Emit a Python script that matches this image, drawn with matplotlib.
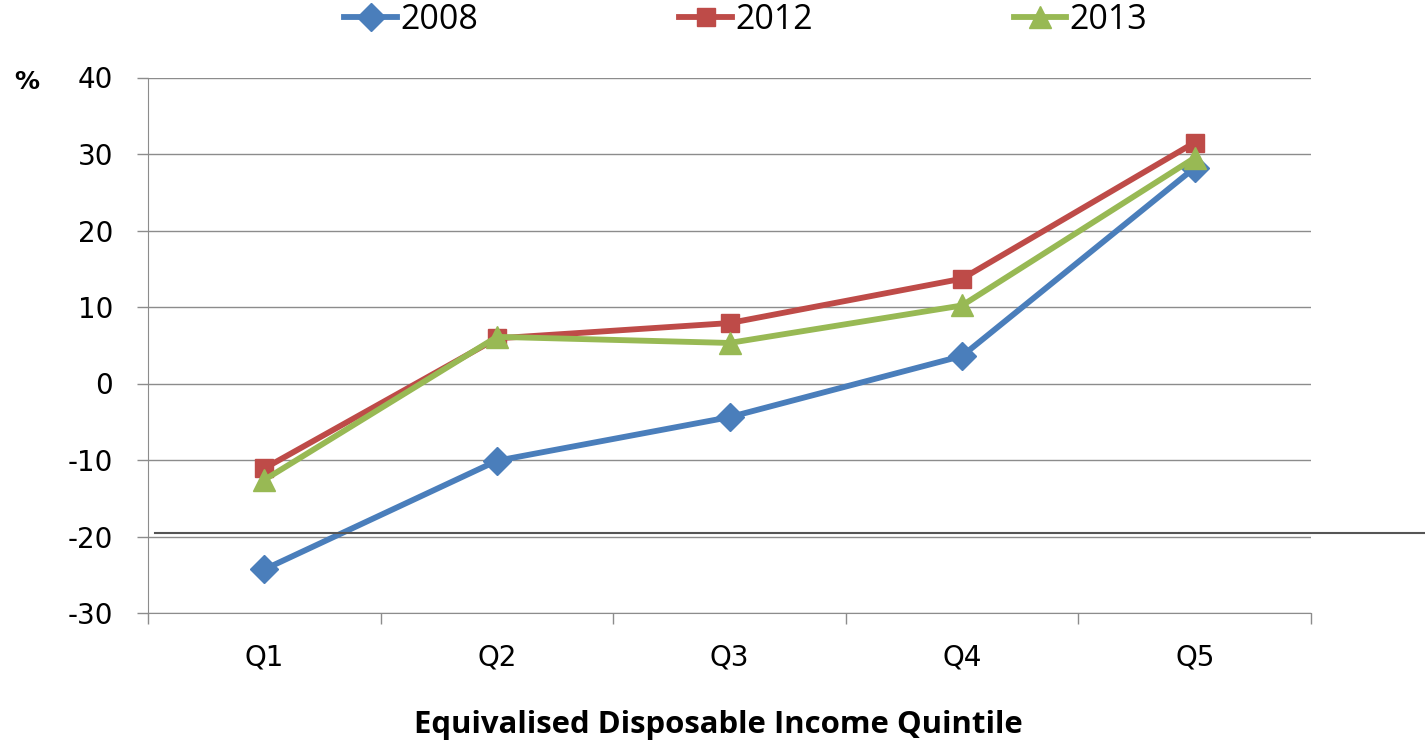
import numpy as np
import matplotlib.pyplot as plt
from matplotlib.lines import Line2D

quintiles = ['Q1', 'Q2', 'Q3', 'Q4', 'Q5']
v2008 = [-24.3, -10.1, -4.4, 3.6, 28.2]
v2012 = [-11.1, 5.9, 7.9, 13.7, 31.5]
v2013 = [-12.6, 6.1, 5.3, 10.2, 29.5]
yticks = [-30, -20, -10, 0, 10, 20, 30, 40]

plt.rcParams['font.family'] = 'DejaVu Sans'

fig = plt.figure(figsize=(14.25, 7.42), dpi=100)
ax = fig.add_axes([148/1425, 1-613/742, (1311-148)/1425, (613-77.5)/742])

x = np.arange(len(quintiles))
ax.plot(x, v2008, color='#4A7EBB', lw=4.2, marker='D', ms=14, label='2008')
ax.plot(x, v2012, color='#BE4B48', lw=4.2, marker='s', ms=13.5, label='2012')
ax.plot(x, v2013, color='#98B954', lw=4.2, marker='^', ms=16, label='2013')

ax.set_xlim(-0.5, 4.5)
ax.set_ylim(-30, 40)
ax.set_yticks(yticks)
ax.set_yticklabels([str(v) for v in yticks], fontsize=20)
ax.set_xticks(x)
ax.set_xticklabels(quintiles, fontsize=20)
ax.set_xticks(np.arange(-0.5, 5, 1), minor=True)
ax.tick_params(axis='x', which='major', length=0, pad=22)
ax.tick_params(axis='x', which='minor', length=8, color='#8c8c8c', width=1)
ax.tick_params(axis='y', length=8, color='#8c8c8c', width=1, pad=17)
ax.grid(axis='y', color='#8c8c8c', lw=1)
ax.set_axisbelow(True)
for s in ['top', 'right']:
    ax.spines[s].set_visible(False)
for s in ['left', 'bottom']:
    ax.spines[s].set_color('#8c8c8c')

fig.text(14/1425, 1-82/742, '%', fontsize=18, fontweight='bold', va='center')
fig.text(718/1425, 1-725/742, 'Equivalised Disposable Income Quintile',
         fontsize=22.4, fontweight='bold', family='Open Sans', ha='center', va='center')

fig.add_artist(Line2D([155/1425, 1], [1-533/742, 1-533/742], color='#555555', lw=1.5))

fig.legend(loc='center', bbox_to_anchor=(746/1425, 1-20/742), ncol=3, frameon=False,
           prop={'family': 'Open Sans', 'size': 24.5}, handlelength=1.55,
           handletextpad=0.1, columnspacing=5.9)

fig.savefig('out.png', dpi=100)
